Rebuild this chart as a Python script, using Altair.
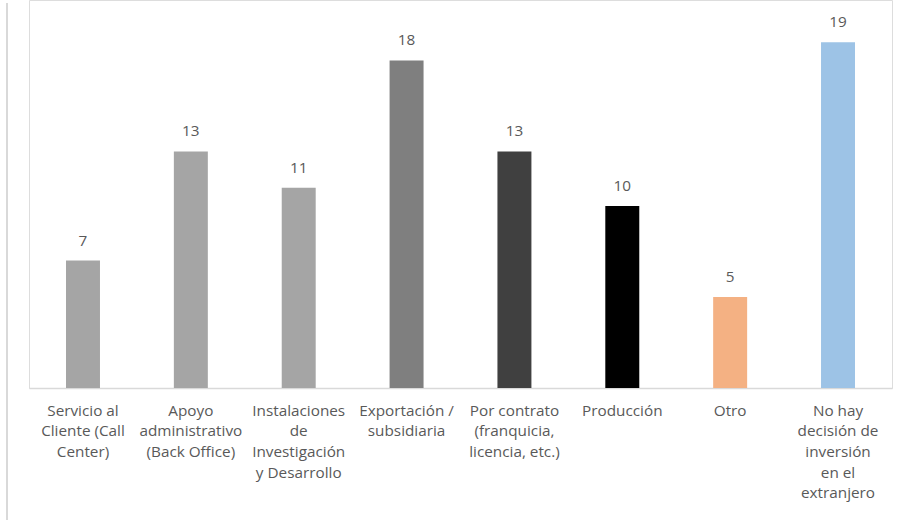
import altair as alt
import pandas as pd

# Categories (line breaks marked with "|") and counts
categories = [
    "Servicio al|Cliente (Call|Center)",
    "Apoyo|administrativo|(Back Office)",
    "Instalaciones|de|Investigación|y Desarrollo",
    "Exportación /|subsidiaria",
    "Por contrato|(franquicia,|licencia, etc.)",
    "Producción",
    "Otro",
    "No hay|decisión de|inversión|en el|extranjero",
]
values = [7, 13, 11, 18, 13, 10, 5, 19]
colors = ["#A5A5A5", "#A5A5A5", "#A5A5A5", "#7F7F7F", "#404040", "#000000", "#F4B183", "#9DC3E6"]

df = pd.DataFrame({"cat": categories, "val": values, "color": colors})

FONT = "Open Sans"
TXT = "#595959"

x = alt.X(
    "cat:N",
    sort=categories,
    scale=alt.Scale(paddingInner=0.685, paddingOuter=0.343),
    axis=alt.Axis(
        title=None,
        labelAngle=0,
        labelExpr="split(datum.label, '|')",
        labelLineHeight=20.7,
        labelFontSize=15.3,
        labelFont=FONT,
        labelColor=TXT,
        labelPadding=15,
        labelBaseline="top",
        ticks=False,
        domainColor="#D9D9D9",
        domainWidth=1.5,
        labelLimit=200,
    ),
)
y = alt.Y(
    "val:Q",
    scale=alt.Scale(domain=[0, 21.32], nice=False, zero=True),
    axis=None,
)

bars = alt.Chart(df).mark_bar().encode(x=x, y=y, color=alt.Color("color:N", scale=None))

labels = alt.Chart(df).mark_text(
    dy=-12, baseline="bottom", fontSize=15.3, font=FONT, color=TXT
).encode(x=x, y=y, text="val:Q")

frame = alt.Chart(df).mark_rule(color="#D9D9D9", strokeWidth=2).encode(
    x=alt.value(-22), y=alt.value(3), y2=alt.value(540)
)

chart = (
    alt.layer(frame, bars, labels)
    .properties(
        width=863,
        height=388,
        padding={"left": 29, "top": 0, "right": 9, "bottom": 132},
        autosize=alt.AutoSizeParams(type="none"),
    )
    .configure_view(stroke=None)
    .configure(background="white")
)

chart.save("out.html", embed_options={"renderer": "svg", "actions": False})
